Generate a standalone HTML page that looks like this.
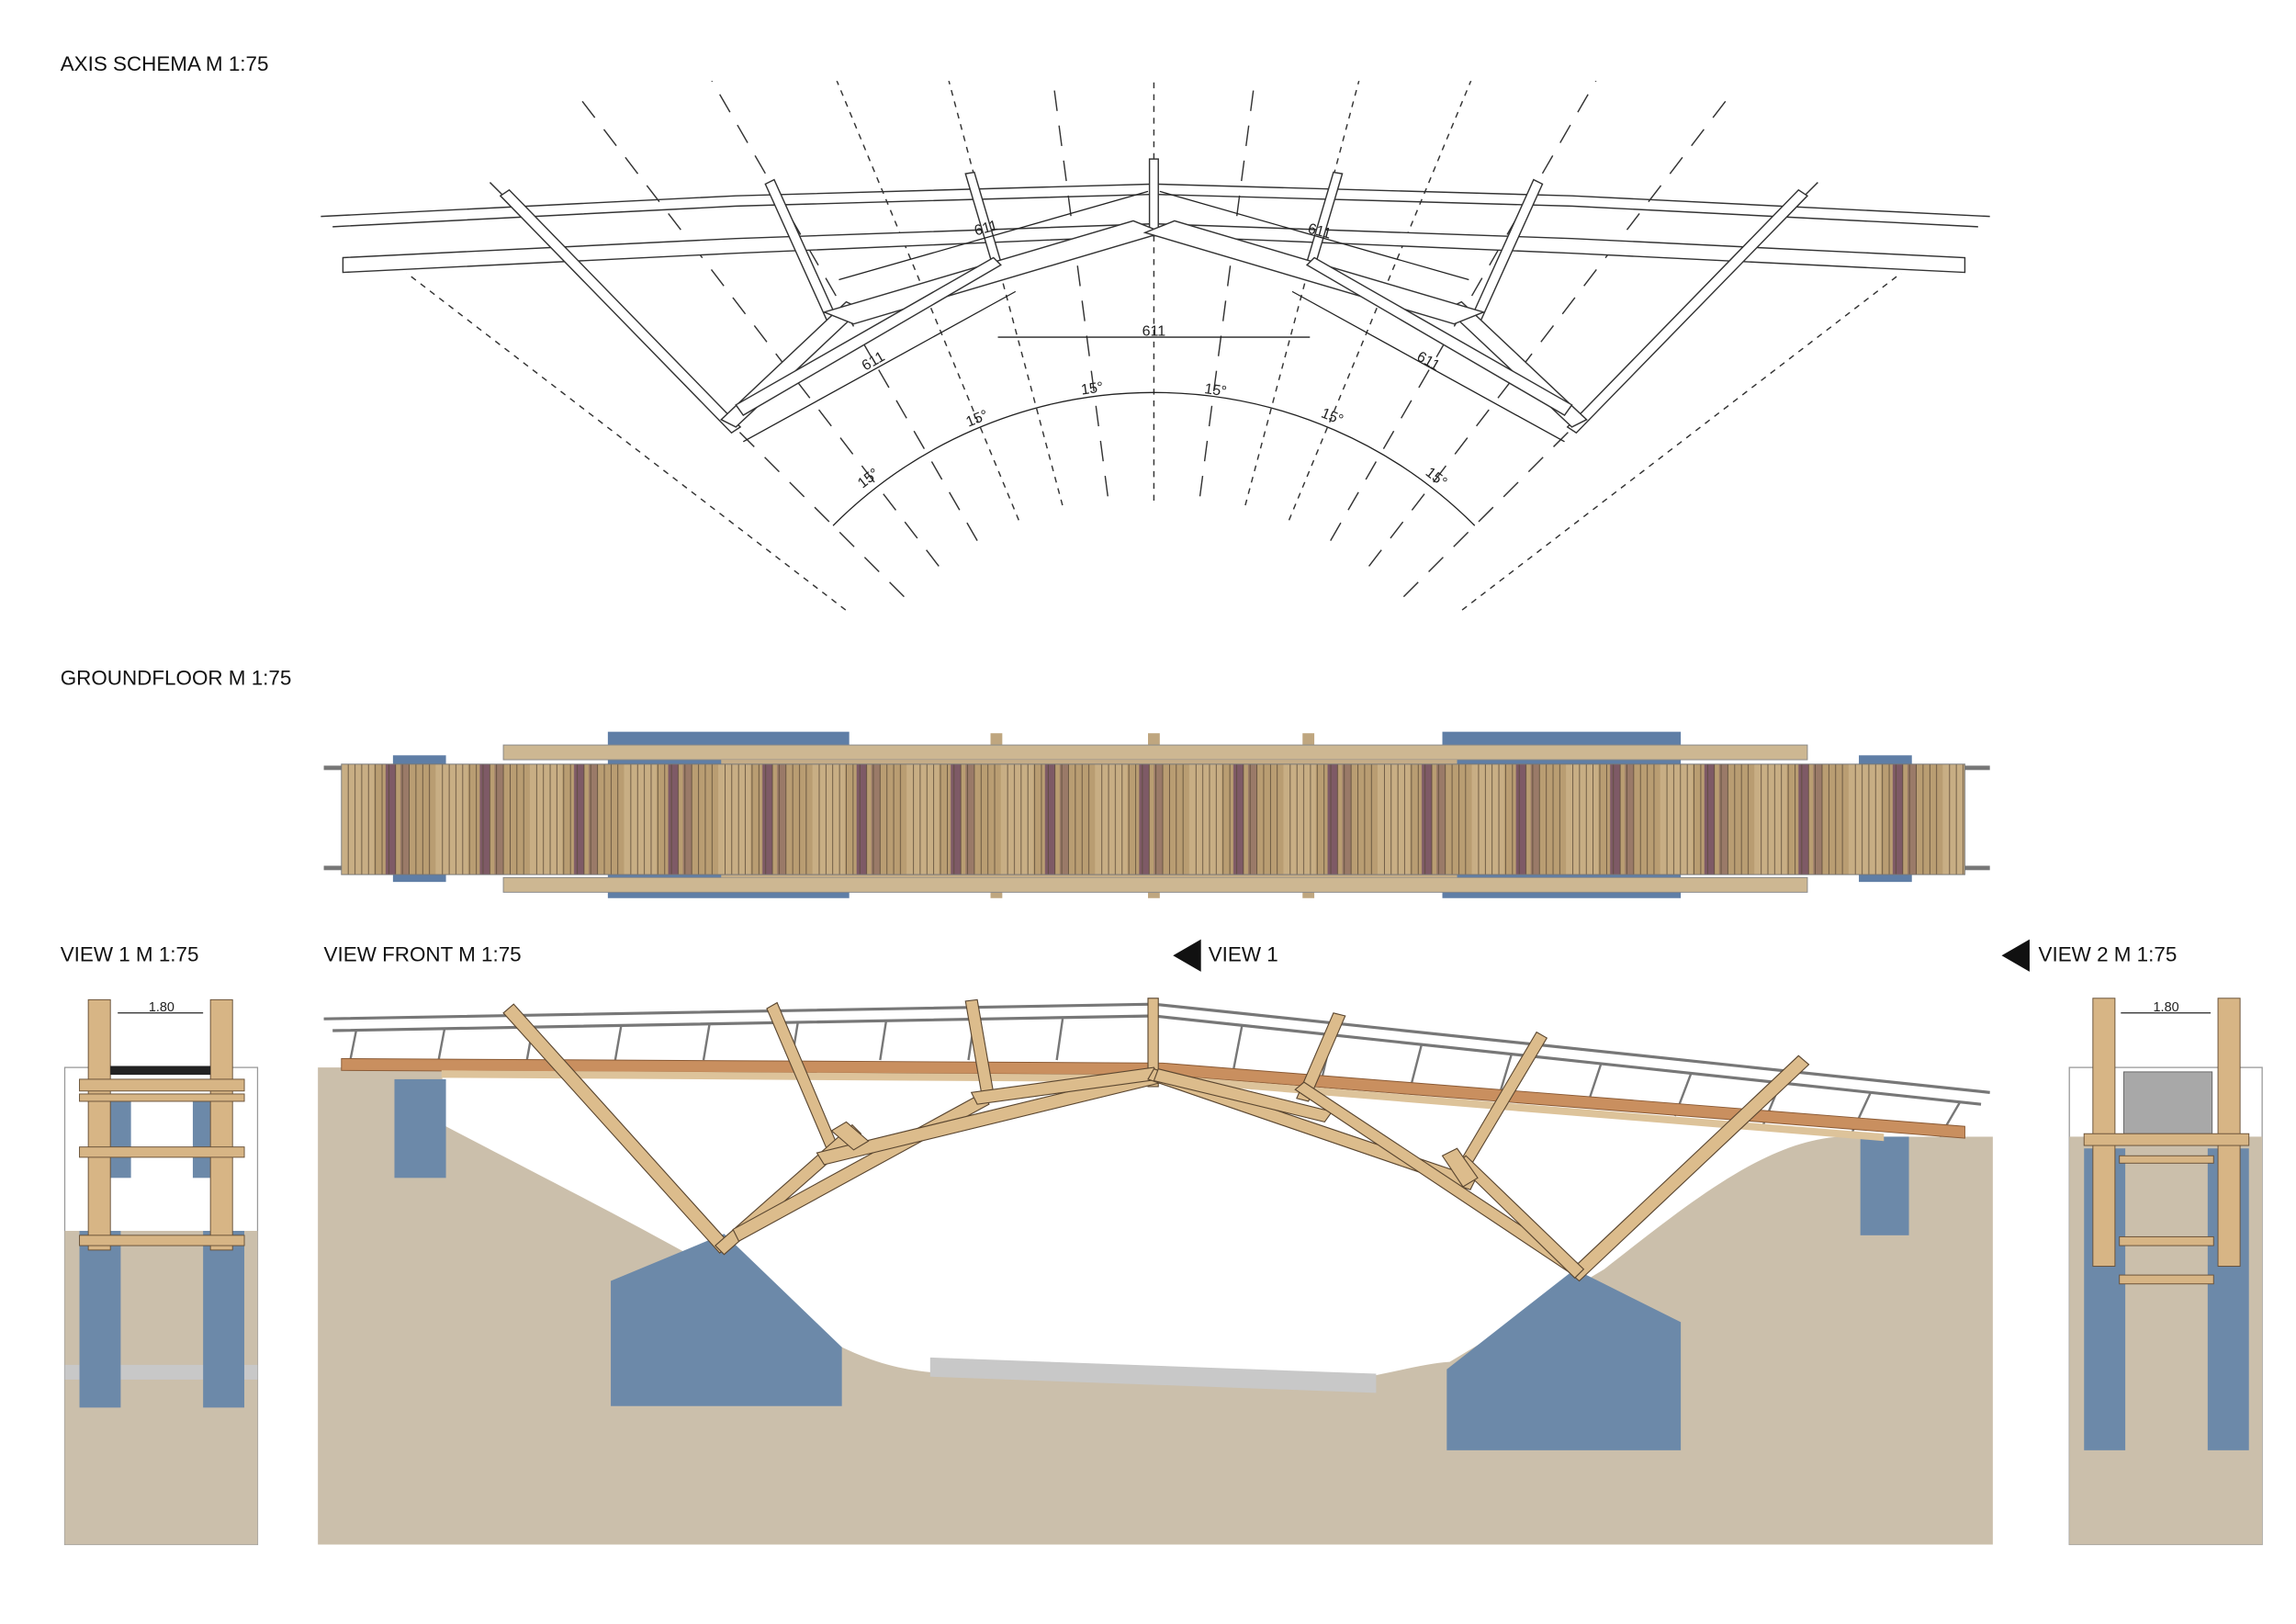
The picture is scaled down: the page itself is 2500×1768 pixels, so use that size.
<!DOCTYPE html>
<html><head><meta charset="utf-8"><style>
html,body{margin:0;padding:0;background:#fff}
svg{display:block}
text{font-family:"Liberation Sans",sans-serif}
</style></head><body>
<svg width="2500" height="1768" viewBox="0 0 1560 1103" preserveAspectRatio="none" xmlns="http://www.w3.org/2000/svg">
<defs>
<pattern id="planks" x="232" y="0" width="64" height="80" patternUnits="userSpaceOnUse">
<rect width="64" height="80" fill="#b99d72"/>
<rect x="0" width="22" height="80" fill="#c8ae84"/>
<rect x="30" width="7" height="80" fill="#7e5a66"/>
<rect x="40" width="6" height="80" fill="#9a7a68"/>
<g stroke="#5b4a38" stroke-width="0.5">
<line x1="4.6" y1="0" x2="4.6" y2="80"/><line x1="9.2" y1="0" x2="9.2" y2="80"/><line x1="13.8" y1="0" x2="13.8" y2="80"/><line x1="18.4" y1="0" x2="18.4" y2="80"/><line x1="23" y1="0" x2="23" y2="80"/><line x1="27.6" y1="0" x2="27.6" y2="80"/><line x1="32.2" y1="0" x2="32.2" y2="80"/><line x1="36.8" y1="0" x2="36.8" y2="80"/><line x1="41.4" y1="0" x2="41.4" y2="80"/><line x1="46" y1="0" x2="46" y2="80"/><line x1="50.6" y1="0" x2="50.6" y2="80"/><line x1="55.2" y1="0" x2="55.2" y2="80"/><line x1="59.8" y1="0" x2="59.8" y2="80"/>
</g>
</pattern>
<clipPath id="ax"><rect x="0" y="55" width="1560" height="360"/></clipPath>
</defs>

<g font-size="14" fill="#111">
<text x="41" y="48">AXIS SCHEMA M 1:75</text>
<text x="41" y="465">GROUNDFLOOR M 1:75</text>
<text x="41" y="653">VIEW 1 M 1:75</text>
<text x="220" y="653">VIEW FRONT M 1:75</text>
<text x="821" y="653">VIEW 1</text>
<text x="1385" y="653">VIEW 2 M 1:75</text>
</g>
<polygon points="797,649 816,638 816,660" fill="#111"/>
<polygon points="1360,649 1379,638 1379,660" fill="#111"/>

<!-- AXIS SCHEMA -->
<g clip-path="url(#ax)" stroke="#333" stroke-width="0.9" fill="none">
<line x1="784" y1="340" x2="784" y2="55" stroke-dasharray="4 4"/>
<g stroke-dasharray="14 10">
<line x1="815.3" y1="337.1" x2="867.5" y2="-59.5"/><line x1="752.7" y1="337.1" x2="700.5" y2="-59.5"/>
<line x1="904" y1="367.2" x2="1104" y2="20.8"/><line x1="664" y1="367.2" x2="464" y2="20.8"/>
<line x1="953.7" y1="405.3" x2="1236.5" y2="122.5"/><line x1="614.3" y1="405.3" x2="331.5" y2="122.5"/>
<line x1="974.4" y1="428.9" x2="1291.8" y2="185.4" stroke-dasharray="4 4"/><line x1="593.6" y1="428.9" x2="276.2" y2="185.4" stroke-dasharray="4 4"/>
</g>
<g stroke-dasharray="4 4">
<line x1="846.1" y1="343.2" x2="949.6" y2="-43.2"/><line x1="721.9" y1="343.2" x2="618.4" y2="-43.2"/>
<line x1="875.8" y1="353.3" x2="1028.9" y2="-16.3"/><line x1="692.2" y1="353.3" x2="539.1" y2="-16.3"/>
</g>
<g stroke-dasharray="14 10">
<line x1="930.1" y1="384.6" x2="1173.6" y2="67.2"/><line x1="637.9" y1="384.6" x2="394.4" y2="67.2"/>
</g>
</g>
<g stroke="#333" stroke-width="0.9" fill="#fff">
<polyline fill="none" points="218,147 500,133 784,125 1068,133 1352,147"/>
<polyline fill="none" points="226,154 500,140 784,132 1068,140 1344,154"/>
<polygon points="233,175 500,162 784,152 1068,162 1335,175 1335,185 1068,172 784,160 500,172 233,185"/>
<polygon points="340,133 346,129 503,290 497,294"/>
<polygon points="1228,133 1222,129 1065,290 1071,294"/>
<polygon points="520,125 526,122 568,215 562,218"/>
<polygon points="1048,125 1042,122 1000,215 1006,218"/>
<polygon points="656,118 662,117 683,188 677,189"/>
<polygon points="912,118 906,117 885,188 891,189"/>
<rect x="781" y="108" width="6" height="52"/>
<polygon points="490,285 500,290 585,210 575,205"/>
<polygon points="1078,285 1068,290 983,210 993,205"/>
<polygon points="560,212 580,220 790,158 770,150"/>
<polygon points="1008,212 988,220 778,158 798,150"/>
<polygon points="500,275 505,282 680,180 675,175"/>
<polygon points="1068,275 1063,282 888,180 893,175"/>
</g>
<g stroke="#222" stroke-width="0.8" fill="none">
<line x1="570" y1="190" x2="780" y2="130"/><line x1="998" y1="190" x2="788" y2="130"/>
<line x1="505" y1="300" x2="690" y2="198"/><line x1="1063" y1="300" x2="878" y2="198"/>
<line x1="678" y1="229" x2="890" y2="229"/>
<path d="M566,357 A308,308 0 0 1 1002,357"/>
</g>
<g fill="#222" font-size="10">
<text x="663" y="160" transform="rotate(-15 663 160)">611</text>
<text x="888" y="158" transform="rotate(15 888 158)">611</text>
<text x="776" y="228">611</text>
<text x="588" y="252" transform="rotate(-30 588 252)">611</text>
<text x="962" y="244" transform="rotate(30 962 244)">611</text>
<text x="586" y="332" transform="rotate(-38 586 332)">15°</text>
<text x="658" y="290" transform="rotate(-22 658 290)">15°</text>
<text x="735" y="268" transform="rotate(-8 735 268)">15°</text>
<text x="818" y="267" transform="rotate(8 818 267)">15°</text>
<text x="897" y="283" transform="rotate(22 897 283)">15°</text>
<text x="968" y="322" transform="rotate(38 968 322)">15°</text>
</g>

<!-- GROUNDFLOOR -->
<g>
<rect x="413" y="497" width="164" height="113" fill="#5f7ea6"/>
<rect x="980" y="497" width="162" height="113" fill="#5f7ea6"/>
<rect x="267" y="513" width="36" height="86" fill="#5f7ea6"/>
<rect x="1263" y="513" width="36" height="86" fill="#5f7ea6"/>
<g fill="#bfa67f"><rect x="673" y="498" width="8" height="112"/><rect x="780" y="498" width="8" height="112"/><rect x="885" y="498" width="8" height="112"/></g>
<rect x="342" y="506" width="886" height="10" fill="#cdb792" stroke="#888" stroke-width="0.6"/>
<rect x="342" y="596" width="886" height="10" fill="#cdb792" stroke="#888" stroke-width="0.6"/>
<rect x="490" y="516" width="500" height="4" fill="#c5ad88"/>
<rect x="490" y="592" width="500" height="4" fill="#c5ad88"/>
<rect x="220" y="520" width="1132" height="3" fill="#777"/>
<rect x="220" y="588" width="1132" height="3" fill="#777"/>
<rect x="232" y="519" width="1103" height="75" fill="url(#planks)" stroke="#777" stroke-width="0.6"/>
</g>

<!-- FRONT VIEW -->
<path d="M216,1049 L216,725 L300,725 L303,765 C360,795 430,830 500,870 L572,915 C595,926 612,930 632,932 L935,934 C955,930 970,926 985,925 L1090,862 C1150,815 1200,775 1250,772 L1354,772 L1354,1049 Z" fill="#cbbfab"/>
<rect x="268" y="733" width="35" height="67" fill="#6c89a9"/>
<rect x="1264" y="772" width="33" height="67" fill="#6c89a9"/>
<polygon points="415,870 492,838 572,915 572,955 415,955" fill="#6c89a9"/>
<polygon points="983,930 1070,862 1142,898 1142,985 983,985" fill="#6c89a9"/>
<polygon points="632,922 935,933 935,946 632,935" fill="#c8c8c8"/>
<g stroke="#777" stroke-width="2" fill="none">
<polyline points="220,692 784,682 1352,742"/>
<polyline points="226,700 784,690 1346,750"/>
<g stroke-width="1.5">
<line x1="242" y1="700" x2="238" y2="720"/><line x1="302" y1="699" x2="298" y2="720"/><line x1="362" y1="698" x2="358" y2="720"/><line x1="422" y1="697" x2="418" y2="720"/><line x1="482" y1="696" x2="478" y2="720"/><line x1="542" y1="695" x2="538" y2="720"/><line x1="602" y1="694" x2="598" y2="720"/><line x1="662" y1="693" x2="658" y2="720"/><line x1="722" y1="692" x2="718" y2="720"/>
<line x1="844" y1="696" x2="838" y2="727"/><line x1="905" y1="703" x2="898" y2="733"/><line x1="966" y1="709" x2="958" y2="740"/><line x1="1027" y1="716" x2="1018" y2="746"/><line x1="1088" y1="722" x2="1078" y2="752"/><line x1="1149" y1="729" x2="1138" y2="758"/><line x1="1210" y1="735" x2="1198" y2="764"/><line x1="1271" y1="742" x2="1258" y2="770"/><line x1="1332" y1="748" x2="1318" y2="772"/>
</g>
</g>
<polygon points="232,719 790,722 1335,765 1335,773 790,730 232,727" fill="#c98f5f" stroke="#8a5a35" stroke-width="0.6"/>
<polygon points="300,727 790,730 1280,770 1280,775 790,735 300,732" fill="#ddc39a"/>
<g stroke="#5a4630" stroke-width="0.7" fill="#dcbc8c">
<polygon points="342,688 349,682 496,845 489,851"/>
<polygon points="1222,717 1229,723 1073,870 1066,864"/>
<polygon points="521,685 528,681 569,778 562,781"/>
<polygon points="1044,701 1051,705 999,792 992,789"/>
<polygon points="656,680 664,679 676,748 668,749"/>
<polygon points="906,688 914,690 889,748 881,746"/>
<rect x="780" y="678" width="7" height="60"/>
<polygon points="486,846 492,852 585,770 579,764"/>
<polygon points="498,835 502,843 672,750 668,742"/>
<polygon points="555,783 560,791 790,735 785,727"/>
<polygon points="660,742 664,750 788,733 784,725"/>
<polygon points="780,733 784,726 1003,800 999,808"/>
<polygon points="784,734 787,726 905,755 900,762"/>
<polygon points="880,740 886,735 1072,858 1066,864"/>
<polygon points="990,790 996,785 1076,862 1070,868"/>
<polygon points="565,768 575,762 590,775 580,781"/>
<polygon points="980,785 990,780 1004,800 994,806"/>
</g>

<!-- VIEW 1 -->
<rect x="44" y="725" width="131" height="324" fill="#fff" stroke="#999" stroke-width="0.8"/>
<rect x="44" y="836" width="131" height="213" fill="#cbbfab"/>
<rect x="44" y="927" width="131" height="10" fill="#c8c8c8"/>
<rect x="54" y="836" width="28" height="120" fill="#6c89a9"/>
<rect x="138" y="836" width="28" height="120" fill="#6c89a9"/>
<rect x="75" y="745" width="14" height="55" fill="#6c89a9"/>
<rect x="131" y="745" width="14" height="55" fill="#6c89a9"/>
<g fill="#d7b585" stroke="#6a5238" stroke-width="0.6">
<rect x="60" y="679" width="15" height="170"/>
<rect x="143" y="679" width="15" height="170"/>
<rect x="54" y="733" width="112" height="8"/>
<rect x="54" y="743" width="112" height="5"/>
<rect x="54" y="779" width="112" height="7"/>
<rect x="54" y="839" width="112" height="7"/>
</g>
<rect x="75" y="724" width="68" height="6" fill="#222"/>
<line x1="80" y1="688" x2="138" y2="688" stroke="#222" stroke-width="0.8"/>
<text x="101" y="687" font-size="9" fill="#222">1.80</text>

<!-- VIEW 2 -->
<rect x="1406" y="725" width="131" height="324" fill="#fff" stroke="#999" stroke-width="0.8"/>
<rect x="1406" y="772" width="131" height="277" fill="#cbbfab"/>
<rect x="1416" y="780" width="28" height="205" fill="#6c89a9"/>
<rect x="1500" y="780" width="28" height="205" fill="#6c89a9"/>
<rect x="1443" y="728" width="60" height="42" fill="#a8a8a8" stroke="#666" stroke-width="0.6"/>
<g fill="#d7b585" stroke="#6a5238" stroke-width="0.6">
<rect x="1422" y="678" width="15" height="182"/>
<rect x="1507" y="678" width="15" height="182"/>
<rect x="1416" y="770" width="112" height="8"/>
<rect x="1440" y="785" width="64" height="5"/>
<rect x="1440" y="840" width="64" height="6"/>
<rect x="1440" y="866" width="64" height="6"/>
</g>
<line x1="1441" y1="688" x2="1502" y2="688" stroke="#222" stroke-width="0.8"/>
<text x="1463" y="687" font-size="9" fill="#222">1.80</text>
</svg>
</body></html>
